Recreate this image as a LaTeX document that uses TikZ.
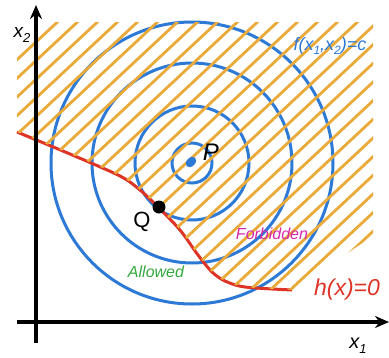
\documentclass[tikz,border=0pt]{standalone}
\usepackage{fontspec}
\setsansfont{Liberation Sans}
\usepackage{xcolor}
\usetikzlibrary{arrows.meta,positioning}
\definecolor{cblue}{RGB}{45,122,214}
\definecolor{corange}{RGB}{234,170,58}
\definecolor{cred}{RGB}{222,52,38}
\definecolor{cgreen}{RGB}{52,168,62}
\definecolor{cmag}{RGB}{214,40,168}
\tikzset{
lvl/.style={cblue,line width=3pt},
hatch/.style={corange,line width=2.8pt},
axis/.style={line width=3.2pt,arrows={-Stealth[length=14pt,width=12pt]}},
lbl/.style={font=\sffamily\itshape,inner sep=0pt},
}
\newcommand{\fsz}[1]{\fontsize{#1}{#1}\selectfont}
\begin{document}
\begin{tikzpicture}[x=1pt,y=-1pt,>=Stealth]
\useasboundingbox(0,0)rectangle(389,357);
\fill[white](0,0)rectangle(389,357);
\draw[lvl](192,163)circle(20);
\draw[lvl](192,163)circle(57);
\draw[lvl](192,163)circle(100);
\draw[lvl](192,163)circle(141);
\draw[cred,line width=3pt](17,132)plot[smooth]coordinates{(17,132)(70,154)(120,176)(140,190)(158,207)(180,230)(198,255)(212,272)(225,281)(245,287)(292,290)};
\begin{scope}
\clip(17,22)--(373,22)--(373,236)--(292,290)--plot[smooth]coordinates{(292,290)(245,287)(225,281)(212,272)(198,255)(180,230)(158,207)(140,190)(120,176)(70,154)(17,132)}--cycle;
\foreach \i in {-262,-242,...,380}
\draw[hatch](\i,320)--(\i+343,0);
\end{scope}
\fill[cblue,rotate around={45:(191,162)}](191,162)ellipse[x radius=6pt,y radius=4.2pt];
\coordinate(pdot)at(191,162);
\node[circle,fill=black,minimum size=13pt,inner sep=0pt](qdot)at(159,207){};
\draw[axis](17,322)--(389,322);
\draw[axis](36,343)--(36,5);
\node[lbl,font=\sffamily\itshape\fsz{19}](xtwo)at(22,35){x\raisebox{-0.45ex}{\fsz{13}2}};
\node[lbl,font=\sffamily\itshape\fsz{20}](xone)at(358,346){x\raisebox{-0.45ex}{\fsz{13}1}};
\node[lbl,cblue,font=\sffamily\itshape\fsz{18}](flabel)at(330,46){f(x\raisebox{-0.45ex}{\fsz{12}1},x\raisebox{-0.45ex}{\fsz{12}2})=c};
\node[lbl,font=\sffamily\itshape\fsz{24}](plabel)at(211,152){P};
\node[lbl,font=\sffamily\fsz{22}](qlabel)at(142,222){Q};
\node[lbl,cmag,font=\sffamily\itshape\fsz{16}](forbid)at(272,234){Forbidden};
\node[lbl,cgreen,font=\sffamily\itshape\fsz{16}](allow)at(156,272){Allowed};
\node[lbl,cred,font=\sffamily\itshape\fsz{23}](hlabel)at(347,290){h(x)=0};
\end{tikzpicture}
\end{document}
